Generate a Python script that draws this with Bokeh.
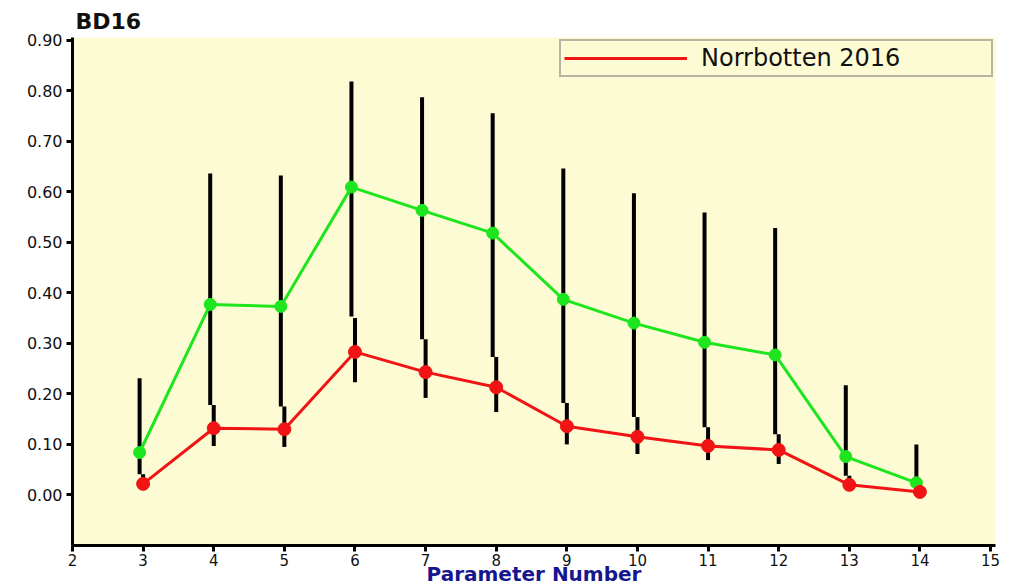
from bokeh.plotting import figure
from bokeh.models import FixedTicker, NumeralTickFormatter, Range1d
from bokeh.embed import file_html
from bokeh.resources import INLINE

# ---- data ----
params = [3, 4, 5, 6, 7, 8, 9, 10, 11, 12, 13, 14]
green_mean = [0.084, 0.377, 0.373, 0.609, 0.563, 0.518, 0.387, 0.340, 0.302, 0.277, 0.076, 0.024]
green_upper = [0.231, 0.636, 0.632, 0.818, 0.787, 0.755, 0.646, 0.597, 0.559, 0.528, 0.217, 0.100]
green_lower = [0.041, 0.178, 0.175, 0.353, 0.308, 0.273, 0.182, 0.154, 0.134, 0.120, 0.038, 0.014]
red_mean = [0.022, 0.132, 0.130, 0.283, 0.243, 0.213, 0.136, 0.115, 0.097, 0.089, 0.020, 0.006]
red_upper = [0.041, 0.178, 0.175, 0.350, 0.308, 0.273, 0.182, 0.154, 0.134, 0.120, 0.038, 0.014]
red_lower = [0.010, 0.097, 0.095, 0.223, 0.192, 0.164, 0.100, 0.081, 0.069, 0.061, 0.012, 0.003]
y_ticks = [0.0, 0.1, 0.2, 0.3, 0.4, 0.5, 0.6, 0.7, 0.8, 0.9]
x_ticks = list(range(2, 16))
legend_text = "Norrbotten 2016"
title_text = "BD16"
x_label = "Parameter Number"

green_x = [v - 0.05 for v in params]
red_x = list(params)

BG = "#fdfbd3"
GREEN = "#1ee61e"
RED = "#f01414"
FONT = "DejaVu Sans"

p = figure(width=1024, height=588, output_backend="svg", toolbar_location=None,
           x_range=Range1d(2, 15.07), y_range=Range1d(-0.1, 0.905),
           min_border_left=72, min_border_right=29, min_border_top=37, min_border_bottom=43)
p.background_fill_color = BG
p.border_fill_color = "white"
p.outline_line_color = None
p.grid.visible = False

p.title.text = title_text
p.title.align = "left"
p.title.offset = 3
p.title.text_font = FONT
p.title.text_font_size = "22px"
p.title.text_font_style = "bold"
p.title.text_color = "#111111"
p.title.standoff = 8

# error bars
p.segment(x0=green_x, y0=green_lower, x1=green_x, y1=green_upper, line_color="black", line_width=4)
p.segment(x0=red_x, y0=red_lower, x1=red_x, y1=red_upper, line_color="black", line_width=4)

# series
p.line(green_x, green_mean, line_color=GREEN, line_width=3)
p.scatter(green_x, green_mean, size=12, fill_color=GREEN, line_color=GREEN)
p.line(red_x, red_mean, line_color=RED, line_width=3, legend_label=legend_text)
p.scatter(red_x, red_mean, size=13, fill_color=RED, line_color=RED)

# axes
for ax in (p.xaxis[0], p.yaxis[0]):
    ax.axis_line_width = 3
    ax.axis_line_color = "black"
    ax.major_tick_line_width = 3
    ax.major_tick_line_color = "black"
    ax.major_tick_out = 6
    ax.major_tick_in = 0
    ax.minor_tick_line_color = None
    ax.major_label_text_font = FONT
    ax.major_label_text_font_size = "16px"
    ax.major_label_text_color = "#111111"

p.yaxis[0].ticker = FixedTicker(ticks=y_ticks)
p.yaxis[0].formatter = NumeralTickFormatter(format="0.00")
p.yaxis[0].major_label_standoff = 4
p.xaxis[0].ticker = FixedTicker(ticks=x_ticks)
p.xaxis[0].major_label_standoff = 2
p.xaxis[0].major_label_text_font_size = "15px"
p.xaxis[0].axis_label = x_label
p.xaxis[0].axis_label_text_font = FONT
p.xaxis[0].axis_label_text_font_size = "20px"
p.xaxis[0].axis_label_text_font_style = "bold"
p.xaxis[0].axis_label_text_color = "#16168e"
p.xaxis[0].axis_label_standoff = -7

# legend
lg = p.legend[0]
lg.location = "top_right"
lg.background_fill_color = BG
lg.background_fill_alpha = 1
lg.border_line_color = "#707070"
lg.border_line_width = 2
lg.label_text_font = FONT
lg.label_text_font_size = "24px"
lg.label_text_color = "#111111"
lg.glyph_width = 123
lg.glyph_height = 20
lg.label_standoff = 14
lg.label_width = 287
lg.padding = 3
lg.margin = 2
lg.spacing = 0

open("out.html", "w").write(file_html(p, INLINE))
